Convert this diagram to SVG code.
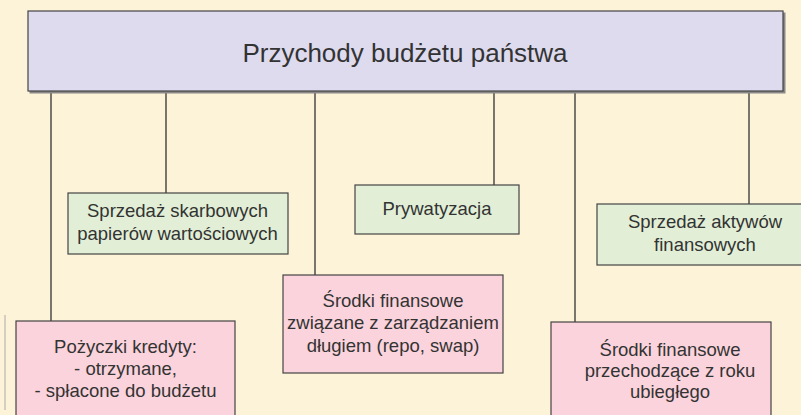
<svg xmlns="http://www.w3.org/2000/svg" width="801" height="415" viewBox="0 0 801 415">
<style>
.bg{fill:#fdf3d9}
.sh{fill:#8a8888}
.box{stroke:#444;stroke-width:1.2}
.top{fill:#dedbef}
.green{fill:#e2efd6}
.pink{fill:#fbd3dc}
.t{font-family:"Liberation Sans","DejaVu Sans",sans-serif;font-size:18.5px;fill:#333;text-anchor:middle}
.title{font-size:26px}
.conn line{stroke:#222;stroke-width:1.2}
</style>
<rect class="bg" x="0" y="0" width="801" height="415"/>
<line x1="5" y1="315" x2="5" y2="410" stroke="#aaa" stroke-width="1"/>
<g class="conn">
<line x1="51" y1="92" x2="51" y2="321"/>
<line x1="166" y1="92" x2="166" y2="193"/>
<line x1="315" y1="92" x2="315" y2="275"/>
<line x1="494" y1="92" x2="494" y2="185"/>
<line x1="575" y1="92" x2="575" y2="322"/>
<line x1="749" y1="92" x2="749" y2="204"/>
</g>
<g id="root">
<rect class="sh" x="29.5" y="12.5" width="756" height="81"/>
<rect class="box top" x="28" y="11" width="755" height="80"/>
<text class="t title" x="405" y="62">Przychody budżetu państwa</text>
</g>
<g id="sprzedaz-papierow">
<rect class="box green" x="68" y="193" width="220" height="61"/>
<text class="t" x="177.5" y="217">Sprzedaż skarbowych</text>
<text class="t" x="177.5" y="240">papierów wartościowych</text>
</g>
<g id="prywatyzacja">
<rect class="box green" x="355" y="185" width="164" height="49"/>
<text class="t" x="437" y="215">Prywatyzacja</text>
</g>
<g id="sprzedaz-aktywow">
<rect class="box green" x="597" y="204" width="210" height="61"/>
<text class="t" x="705" y="228">Sprzedaż aktywów</text>
<text class="t" x="705" y="251">finansowych</text>
</g>
<g id="srodki-dlug">
<rect class="box pink" x="283" y="275" width="220" height="98"/>
<text class="t" x="393" y="307">Środki finansowe</text>
<text class="t" x="393" y="329">związane z zarządzaniem</text>
<text class="t" x="393" y="352">długiem (repo, swap)</text>
</g>
<g id="pozyczki">
<rect class="box pink" x="16" y="321" width="219" height="100"/>
<text class="t" x="125.5" y="353">Pożyczki kredyty:</text>
<text class="t" x="125.5" y="375">- otrzymane,</text>
<text class="t" x="125.5" y="397">- spłacone do budżetu</text>
</g>
<g id="srodki-rok">
<rect class="box pink" x="551" y="322" width="220" height="100"/>
<text class="t" x="670" y="356">Środki finansowe</text>
<text class="t" x="670" y="377">przechodzące z roku</text>
<text class="t" x="670" y="398">ubiegłego</text>
</g>
</svg>
